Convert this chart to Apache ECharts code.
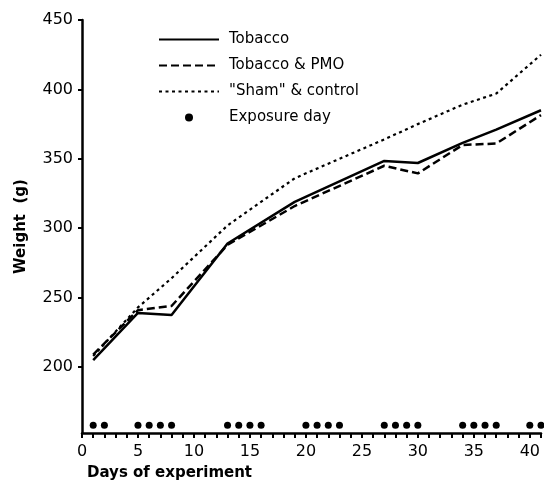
<!DOCTYPE html>
<html>
<head>
<meta charset="utf-8">
<script src="https://cdn.jsdelivr.net/npm/echarts@6/dist/echarts.min.js"></script>
<style>
  html, body { margin: 0; padding: 0; background: #fff; }
  #chart { width: 544px; height: 483px; }
</style>
</head>
<body>
<div id="chart"></div>
<script>
// days on which weights were taken
const days = [1, 5, 8, 13, 19, 27, 30, 34, 37, 41]
const tobacco = [205, 239, 237.5, 289, 319, 348.5, 347, 361.5, 371, 385]
const tobaccoPmo = [209, 241, 244, 288, 316, 345, 339.5, 360, 361, 381.5]
const shamControl = [208, 243, 264, 302, 336, 364, 375, 389, 397, 425]
const exposureDays = [1, 2, 5, 6, 7, 8, 13, 14, 15, 16, 20, 21, 22, 23, 27, 28, 29, 30, 34, 35, 36, 37, 40, 41]
const exposureLevel = 158
const xTickLabels = [0, 5, 10, 15, 20, 25, 30, 35, 40]
const xTicks = [0, 1, 2, 3, 4, 5, 6, 7, 8, 9, 10, 11, 12, 13, 14, 15, 16, 17, 18, 19, 20,
  21, 22, 23, 24, 25, 26, 27, 28, 29, 30, 31, 32, 33, 34, 35, 36, 37, 38, 39, 40, 41]
const yTickLabels = [200, 250, 300, 350, 400, 450]

const font = "DejaVu Sans"
const pair = (xs, ys) => xs.map((x, i) => [x, ys[i]])
// hide the symbol part of the legend icon for the line series
const noDot = { color: "transparent", borderWidth: 0 }

const chart = echarts.init(document.getElementById("chart"))

const option = {
  animation: false,
  backgroundColor: "#fff",
  color: ["#000"],
  textStyle: { fontFamily: font, color: "#000" },
  title: {
    text: "Days of experiment",
    left: 82,
    top: 461,
    textStyle: { fontFamily: font, fontSize: 15, fontWeight: "bold", color: "#000" }
  },
  grid: { left: 82, right: 3, top: 20, bottom: 50 },
  legend: {
    orient: "vertical",
    left: 153,
    top: 27,
    itemWidth: 60,
    itemHeight: 8,
    itemGap: 11,
    textStyle: { fontFamily: font, fontSize: 15, color: "#000", padding: [0, 0, 0, 5] },
    data: [
      { name: "Tobacco", itemStyle: noDot },
      { name: "Tobacco & PMO", itemStyle: noDot },
      { name: "\"Sham\" & control", itemStyle: noDot },
      { name: "Exposure day" }
    ]
  },
  xAxis: {
    type: "value",
    min: 0,
    max: 41,
    axisLine: { lineStyle: { color: "#000", width: 2.5 } },
    axisTick: { customValues: xTicks, length: 5, lineStyle: { color: "#000", width: 2 } },
    axisLabel: { customValues: xTickLabels, margin: 11, fontSize: 16, color: "#000", fontFamily: font },
    splitLine: { show: false }
  },
  yAxis: {
    type: "value",
    min: 152.5,
    max: 450,
    name: "Weight  (g)",
    nameLocation: "middle",
    nameGap: 53,
    nameTextStyle: { fontFamily: font, fontSize: 15, fontWeight: "bold", color: "#000" },
    axisLine: { show: true, lineStyle: { color: "#000", width: 2.5 } },
    axisTick: { show: true, customValues: yTickLabels, length: 4, lineStyle: { color: "#000", width: 2 } },
    axisLabel: { customValues: yTickLabels, margin: 9, fontSize: 16, color: "#000", fontFamily: font },
    splitLine: { show: false }
  },
  series: [
    {
      name: "Tobacco",
      type: "line",
      data: pair(days, tobacco),
      symbol: "none",
      clip: false,
      itemStyle: { color: "#000" },
      lineStyle: { color: "#000", width: 2.5, type: "solid" }
    },
    {
      name: "Tobacco & PMO",
      type: "line",
      data: pair(days, tobaccoPmo),
      symbol: "none",
      clip: false,
      itemStyle: { color: "#000" },
      lineStyle: { color: "#000", width: 2.5, type: [8, 4] }
    },
    {
      name: "\"Sham\" & control",
      type: "line",
      data: pair(days, shamControl),
      symbol: "none",
      clip: false,
      itemStyle: { color: "#000" },
      lineStyle: { color: "#000", width: 2.2, type: [3, 3.5] }
    },
    {
      name: "Exposure day",
      type: "scatter",
      data: exposureDays.map(d => [d, exposureLevel]),
      symbol: "circle",
      symbolSize: 7,
      clip: false,
      itemStyle: { color: "#000", opacity: 1 }
    }
  ]
}

chart.setOption(option)
</script>
</body>
</html>
